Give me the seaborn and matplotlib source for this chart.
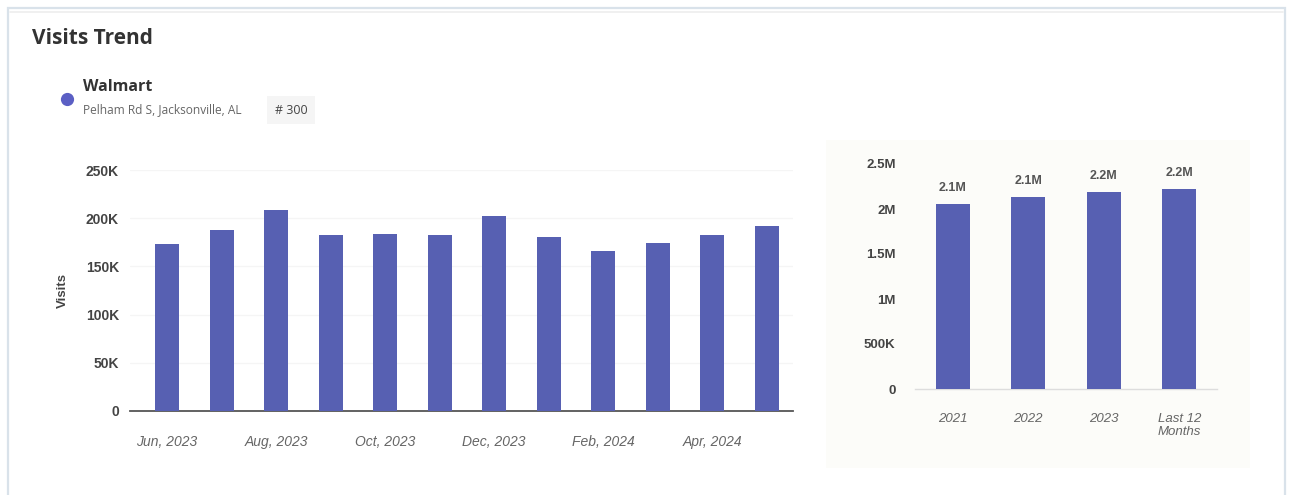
import matplotlib
matplotlib.use("Agg")
import matplotlib.pyplot as plt
import matplotlib.patches as mpatches
import seaborn as sns
import pandas as pd

months = ["Jun, 2023", "Jul, 2023", "Aug, 2023", "Sep, 2023", "Oct, 2023", "Nov, 2023",
          "Dec, 2023", "Jan, 2024", "Feb, 2024", "Mar, 2024", "Apr, 2024", "May, 2024"]
monthly_visits = [173000, 188000, 209000, 182500, 184000, 182500,
                  202000, 181000, 166000, 174000, 182500, 192000]
month_ticks = [0, 2, 4, 6, 8, 10]

periods = ["2021", "2022", "2023", "Last 12\nMonths"]
period_visits = [2056000, 2137000, 2190000, 2220000]
period_labels = ["2.1M", "2.1M", "2.2M", "2.2M"]

left_yticks = [0, 50000, 100000, 150000, 200000, 250000]
left_ytick_labels = ["0", "50K", "100K", "150K", "200K", "250K"]
right_yticks = [0, 500000, 1000000, 1500000, 2000000, 2500000]
right_ytick_labels = ["0", "500K", "1M", "1.5M", "2M", "2.5M"]

BAR = "#5760b2"
TICK = "#444444"

sns.set_theme(style="white")
plt.rcParams["font.family"] = ["Liberation Sans", "DejaVu Sans"]

W, H = 1293, 495
fig = plt.figure(figsize=(W / 100, H / 100), dpi=100)
fig.patch.set_facecolor("white")

def fx(px):
    return px / W

def fy(py):
    return 1 - py / H

# outer card border
fig.add_artist(mpatches.Rectangle((fx(8), fy(497)), fx(1285) - fx(8), fy(8) - fy(497),
                                  fill=False, edgecolor="#d9e2ea", linewidth=1.6,
                                  transform=fig.transFigure))
fig.add_artist(plt.Line2D([fx(10), fx(1283)], [fy(11.5), fy(11.5)], color="#ededed",
                          linewidth=1.2, transform=fig.transFigure))
# right panel background
fig.add_artist(mpatches.Rectangle((fx(826), fy(468)), fx(1250) - fx(826), fy(140) - fy(468),
                                  facecolor="#fcfcf9", edgecolor="none",
                                  transform=fig.transFigure, zorder=0))

# header texts
HF = ["Open Sans", "DejaVu Sans"]
fig.text(fx(32), fy(38), "Visits Trend", fontsize=15, fontweight="bold", color="#333333",
         family=HF, va="center", ha="left")
fig.add_artist(plt.Line2D([fx(67)], [fy(99)], marker="o", markersize=9.5,
                          markerfacecolor="#5b5fc4", markeredgecolor="none",
                          transform=fig.transFigure))
fig.text(fx(83), fy(87), "Walmart", fontsize=11.5, fontweight="bold", color="#333333",
         family=HF, va="center", ha="left")
fig.text(fx(83), fy(110), "Pelham Rd S, Jacksonville, AL", fontsize=8.6, color="#666666",
         family=HF, va="center", ha="left")
fig.text(fx(291), fy(110), "# 300", fontsize=9, color="#444444",
         family=HF, va="center", ha="center",
         bbox=dict(boxstyle="square,pad=0.6", facecolor="#f5f5f5", edgecolor="none"))

# left chart
ax1 = fig.add_axes([fx(130), fy(411), fx(793) - fx(130), fy(170) - fy(411)])
ax1.set_facecolor("none")
df1 = pd.DataFrame({"month": months, "visits": monthly_visits})
sns.barplot(data=df1, x="month", y="visits", color=BAR, width=0.44, saturation=1,
            linewidth=0, ax=ax1, zorder=3)
ax1.set_xlim(-0.68, 11.48)
ax1.set_ylim(0, 250000)
ax1.set_yticks(left_yticks)
ax1.set_yticklabels(left_ytick_labels)
ax1.set_xticks(month_ticks)
ax1.set_xticklabels([months[i] for i in month_ticks], fontstyle="italic", color="#666666",
                    fontsize=10)
ax1.tick_params(axis="x", length=0, pad=17)
ax1.tick_params(axis="y", length=0, pad=8, labelsize=10, labelcolor=TICK)
for lbl in ax1.get_yticklabels():
    lbl.set_fontweight("bold")
ax1.grid(axis="y", color="#f5f5f5", linewidth=0.9, zorder=0)
for s in ["top", "right", "left"]:
    ax1.spines[s].set_visible(False)
ax1.spines["bottom"].set_color("#555555")
ax1.spines["bottom"].set_linewidth(1.3)
ax1.set_xlabel("")
ax1.set_ylabel("Visits", fontsize=9.5, fontweight="bold", color=TICK, labelpad=12)

# right chart
ax2 = fig.add_axes([fx(915), fy(389), fx(1217) - fx(915), fy(164) - fy(389)])
ax2.set_facecolor("none")
df2 = pd.DataFrame({"period": periods, "visits": period_visits})
sns.barplot(data=df2, x="period", y="visits", color=BAR, width=0.45, saturation=1,
            linewidth=0, ax=ax2, zorder=3)
ax2.set_xlim(-0.5, 3.5)
ax2.set_ylim(0, 2500000)
ax2.set_yticks(right_yticks)
ax2.set_yticklabels(right_ytick_labels)
ax2.tick_params(axis="x", length=0, pad=17, labelsize=9.5, labelcolor="#666666")
for lbl in ax2.get_xticklabels():
    lbl.set_fontstyle("italic")
ax2.tick_params(axis="y", length=0, pad=14, labelsize=9.5, labelcolor=TICK)
for lbl in ax2.get_yticklabels():
    lbl.set_fontweight("bold")
for s in ["top", "right", "left"]:
    ax2.spines[s].set_visible(False)
ax2.spines["bottom"].set_color("#dddddd")
ax2.spines["bottom"].set_linewidth(1.0)
ax2.set_xlabel("")
ax2.set_ylabel("")
ax2.bar_label(ax2.containers[0], labels=period_labels, padding=7, fontsize=9,
              fontweight="semibold", color="#555555")

fig.savefig("out.png", dpi=100, facecolor="white")
